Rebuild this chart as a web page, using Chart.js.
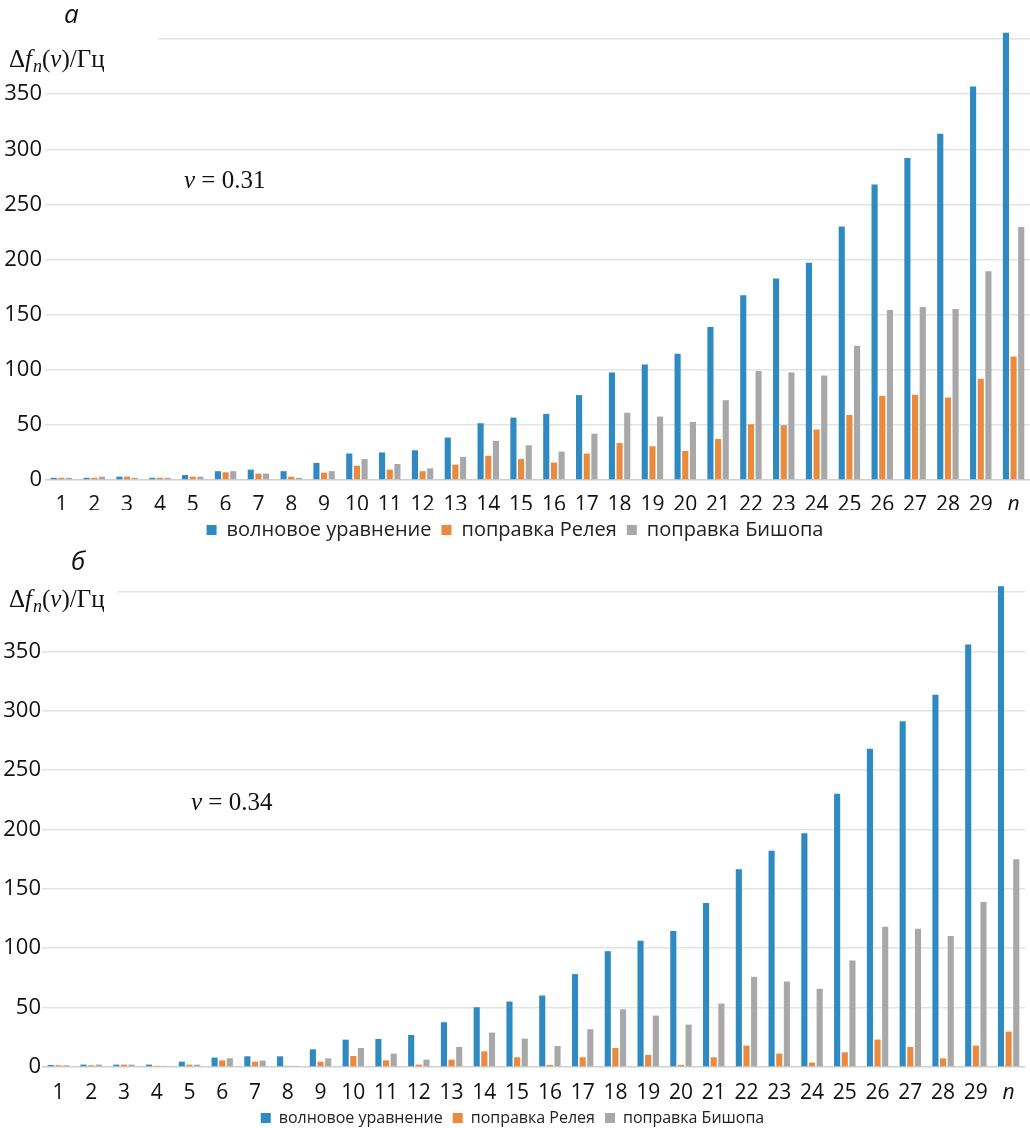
<!DOCTYPE html>
<html>
<head>
<meta charset="utf-8">
<script src="https://cdn.jsdelivr.net/npm/chart.js@4.4.1/dist/chart.umd.min.js"></script>
<style>
  html, body { margin: 0; padding: 0; background: #fff; overflow: hidden; }
  #wrapA { position: absolute; left: 0; top: 0; width: 1030px; height: 560px; }
  #wrapB { position: absolute; left: 0; top: 545px; width: 1030px; height: 595px; }
</style>
</head>
<body>
<div id="wrapA"><canvas id="chartA"></canvas></div>
<div id="wrapB"><canvas id="chartB"></canvas></div>
<script>
// номера гармоник
const categories = ['1','2','3','4','5','6','7','8','9','10','11','12','13','14','15',
  '16','17','18','19','20','21','22','23','24','25','26','27','28','29','n'];
const seriesNames = ['волновое уравнение', 'поправка Релея', 'поправка Бишопа'];
const seriesColors = ['#2e8ac1', '#ea8a3e', '#a8a8a8'];
const yTicks = [0, 50, 100, 150, 200, 250, 300, 350, 400];

// а: v = 0.31
const waveA     = [2, 2, 3, 2, 4.5, 8, 9.4, 8, 15.5, 24, 25, 27, 38.5, 51.5, 56.6, 60, 77, 97.6, 104.8, 114.5, 138.8, 167.5, 182.7, 197, 230, 268, 292, 314, 357, 405.7];
const rayleighA = [2, 2, 3, 2, 3, 7, 5.8, 3, 6.7, 13, 9.4, 8, 14, 22, 19, 15.8, 24, 33.6, 30.6, 26.4, 37.3, 50.6, 49.7, 45.8, 59, 76.4, 77.3, 74.8, 91.8, 112];
const bishopA   = [2, 3, 2, 2, 3, 8, 5.8, 2, 8, 19, 14.5, 10.6, 21, 35.5, 31.5, 25.8, 42, 61, 57.6, 52.7, 72.4, 98.8, 97.6, 94.8, 121.8, 154.3, 157, 155, 189.4, 229.4];

// б: v = 0.34
const waveB     = [1.7, 2, 2, 2, 4.5, 7.9, 9, 9, 14.9, 23, 23.6, 27, 37.7, 50.3, 55.1, 60.2, 78.2, 97.5, 106.3, 114.4, 138, 166.4, 182, 196.8, 230, 268, 291, 313.4, 355.8, 404.7];
const rayleighB = [1.5, 1.5, 2, 1, 2, 5.6, 4.5, 1, 4.5, 9.3, 5.6, 2, 6.2, 13.2, 8.2, 1.8, 8.2, 16, 10.1, 1.8, 8.2, 18, 11.3, 3.7, 12.4, 23.1, 16.9, 7.3, 18, 29.8];
const bishopB   = [1.5, 2, 2, 1, 2, 7.3, 5.4, 1, 7.3, 16, 11.3, 6.2, 16.9, 29, 23.9, 17.7, 31.8, 48.6, 43.3, 35.7, 53.4, 75.9, 72, 65.8, 89.7, 118, 116.4, 110.2, 139, 174.9];

const SANS = '"Open Sans", "Noto Sans", sans-serif';
const SERIF = '"Liberation Serif", "DejaVu Serif", serif';

// подписи: буква панели, ось, значение v
const extrasPlugin = {
  id: 'extras',
  afterDraw(chart, args, o) {
    const ctx = chart.ctx;
    ctx.save();
    // белая подложка под заголовком оси
    ctx.fillStyle = '#fff';
    ctx.fillRect(0, o.maskY, o.maskW, o.maskH);
    ctx.fillStyle = '#111';
    ctx.textBaseline = 'alphabetic';
    ctx.textAlign = 'left';
    ctx.font = 'italic 26px ' + SANS;
    ctx.fillText(o.letter, o.letterX, o.letterY);

    let x = 9, y = o.titleY;
    const parts = [
      ['Δ', '25px ' + SERIF, 0],
      ['f', 'italic 25px ' + SERIF, 0],
      ['n', 'italic 18px ' + SERIF, 5],
      ['(', '25px ' + SERIF, 0],
      ['ν', 'italic 25px ' + SERIF, 0],
      [')/Гц', '25px ' + SERIF, 0]
    ];
    for (const p of parts) {
      ctx.font = p[1];
      ctx.fillText(p[0], x, y + p[2]);
      x += ctx.measureText(p[0]).width + (p[0] === 'f' ? 1 : 0);
    }

    x = o.nuX;
    ctx.font = 'italic 25px ' + SERIF;
    ctx.fillText('ν', x, o.nuY);
    x += ctx.measureText('ν').width;
    ctx.font = '25px ' + SERIF;
    ctx.fillText(' = ' + o.nuValue, x, o.nuY);
    ctx.restore();
  }
};

function makeChart(id, data, cfg) {
  const datasets = data.map((d, i) => ({
    label: seriesNames[i],
    data: d,
    backgroundColor: seriesColors[i],
    borderWidth: 0,
    barPercentage: 0.8,
    categoryPercentage: 0.7
  }));
  return new Chart(document.getElementById(id), {
    type: 'bar',
    data: { labels: categories, datasets: datasets },
    options: {
      responsive: true,
      maintainAspectRatio: false,
      animation: false,
      layout: { padding: { top: cfg.padTop, bottom: cfg.padBottom, left: 0, right: cfg.padRight } },
      scales: {
        x: {
          grid: { display: false },
          border: { display: false },
          ticks: {
            color: '#111',
            padding: cfg.xPad,
            maxRotation: 0,
            autoSkip: false,
            font: c => ({
              family: SANS,
              size: 21,
              style: categories[c.index] === 'n' ? 'italic' : 'normal'
            })
          },
          afterFit: s => { s.height = cfg.xHeight; }
        },
        y: {
          min: 0,
          max: 410,
          grid: {
            color: c => c.tick && c.tick.value === 0 ? '#cfcfcf' : '#e3e3e3',
            lineWidth: 1.5,
            drawTicks: false
          },
          border: { display: false },
          afterBuildTicks: s => { s.ticks = yTicks.map(v => ({ value: v })); },
          ticks: {
            color: '#111',
            padding: cfg.yPad,
            font: { family: SANS, size: 22 },
            callback: v => v >= 400 ? '' : v
          },
          afterFit: s => { s.width = cfg.yWidth; }
        }
      },
      plugins: {
        legend: {
          position: 'bottom',
          labels: {
            color: '#222',
            boxWidth: 10,
            boxHeight: 10,
            padding: cfg.legendPad,
            font: { family: SANS, size: cfg.legendSize }
          }
        },
        tooltip: { enabled: false },
        extras: cfg.extras
      }
    },
    plugins: [extrasPlugin]
  });
}

makeChart('chartA', [waveA, rayleighA, bishopA], {
  padTop: 28, padBottom: 10, padRight: 0,
  xPad: 4, xHeight: 30, yPad: 3, yWidth: 45,
  legendPad: 10, legendSize: 20,
  extras: {
    letter: 'а', letterX: 64, letterY: 23,
    titleY: 67, maskY: 30, maskW: 158, maskH: 18,
    nuX: 184, nuY: 188, nuValue: '0.31'
  }
});

makeChart('chartB', [waveB, rayleighB, bishopB], {
  padTop: 35, padBottom: 4, padRight: 5,
  xPad: 5, xHeight: 33, yPad: 1, yWidth: 42,
  legendPad: 10, legendSize: 16,
  extras: {
    letter: 'б', letterX: 71, letterY: 25,
    titleY: 62, maskY: 40, maskW: 117, maskH: 14,
    nuX: 191, nuY: 265, nuValue: '0.34'
  }
});
</script>
</body>
</html>
